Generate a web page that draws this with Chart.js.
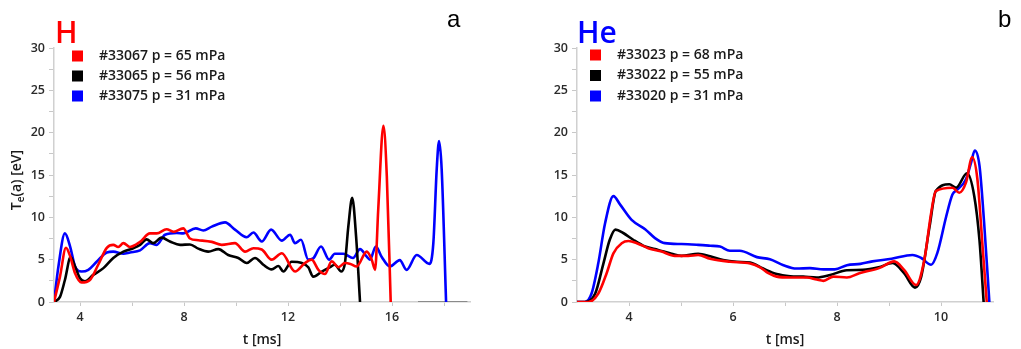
<!DOCTYPE html>
<html>
<head>
<meta charset="utf-8">
<script src="https://cdn.jsdelivr.net/npm/chart.js@4.4.1/dist/chart.umd.min.js"></script>
<style>
  html, body { margin: 0; padding: 0; background: #ffffff; }
  #wrap { position: relative; width: 1021px; height: 349px; overflow: hidden; }
  .panel { position: absolute; top: 0; height: 349px; }
  #pA { left: 0; width: 510px; }
  #pB { left: 510px; width: 511px; }
</style>
</head>
<body>
<div id="wrap">
  <div class="panel" id="pA"><canvas id="cA"></canvas></div>
  <div class="panel" id="pB"><canvas id="cB"></canvas></div>
</div>
<script>
// ---------------- DATA (panel a, hydrogen) ----------------
const hLegend = ["#33067 p = 65 mPa", "#33065 p = 56 mPa", "#33075 p = 31 mPa"];
const hRedT = [3.0, 3.23, 3.46, 3.62, 3.81, 4.06, 4.38, 4.7, 5.03, 5.28, 5.47, 5.67, 5.92, 6.31, 6.69, 6.95, 7.33, 7.59, 7.97, 8.23, 8.55, 9.07, 9.45, 9.96, 10.35, 10.67, 10.99, 11.37, 11.76, 12.27, 12.65, 12.91, 13.17, 13.42, 13.68, 13.94, 14.19, 14.4, 14.64, 15.03, 15.22, 15.35, 15.47, 15.67, 15.8, 15.95];
const hRedV = [0, 3.0, 6.4, 5.4, 3.4, 2.3, 2.6, 4.4, 6.4, 6.75, 6.5, 6.95, 6.5, 7.1, 8.1, 8.1, 8.6, 8.3, 8.7, 7.5, 7.3, 7.1, 6.75, 6.95, 5.95, 6.35, 6.2, 5.0, 5.75, 3.6, 4.6, 5.0, 3.8, 3.3, 4.8, 4.1, 4.6, 4.5, 4.2, 5.95, 5.0, 3.8, 10.9, 20.8, 14.9, 0];
const hBlackT = [3.0, 3.23, 3.42, 3.64, 3.81, 4.0, 4.19, 4.51, 4.9, 5.28, 5.67, 6.05, 6.31, 6.56, 6.82, 7.14, 7.46, 7.85, 8.23, 8.55, 8.93, 9.32, 9.7, 10.09, 10.41, 10.73, 11.05, 11.37, 11.63, 11.82, 12.14, 12.53, 12.78, 12.97, 13.3, 13.6, 13.8, 14.05, 14.19, 14.32, 14.47, 14.62, 14.77];
const hBlackV = [0, 0.6, 2.6, 5.3, 4.2, 2.8, 2.45, 3.2, 4.0, 5.2, 5.95, 6.35, 6.75, 7.4, 6.95, 7.6, 7.15, 6.75, 6.8, 6.3, 5.95, 6.25, 5.55, 5.2, 4.6, 5.2, 4.4, 3.85, 4.25, 3.6, 4.75, 4.6, 4.1, 3.0, 3.6, 4.1, 4.4, 3.6, 4.6, 8.9, 12.3, 7.7, 0];
const hBlueT = [3.0, 3.17, 3.42, 3.62, 3.81, 4.06, 4.32, 4.64, 5.03, 5.28, 5.67, 5.92, 6.31, 6.69, 6.95, 7.27, 7.72, 7.97, 8.45, 8.74, 9.07, 9.58, 9.96, 10.41, 10.67, 10.99, 11.35, 11.76, 12.08, 12.27, 12.5, 12.78, 12.97, 13.27, 13.58, 13.8, 14.13, 14.5, 14.77, 15.03, 15.15, 15.38, 15.6, 15.92, 16.3, 16.56, 16.95, 17.44, 17.59, 17.72, 17.81, 17.91, 18.08];
const hBlueV = [0, 4.2, 8.1, 6.55, 4.2, 3.6, 3.8, 4.75, 5.85, 5.95, 5.7, 5.85, 6.1, 6.95, 6.75, 7.95, 8.15, 8.1, 8.7, 8.45, 8.9, 9.4, 8.55, 7.65, 8.2, 7.15, 8.55, 7.25, 7.95, 6.95, 7.35, 5.0, 5.15, 6.55, 5.0, 5.7, 5.7, 5.2, 6.25, 5.35, 5.0, 6.55, 5.35, 4.2, 4.95, 3.8, 5.55, 4.5, 6.95, 15.7, 19.0, 15.7, 0];
const hGrayT = [17.0, 18.9];
const hGrayV = [0, 0];
const hXTicks = [4, 6, 8, 10, 12, 14, 16, 18];
const hXLabels = [4, 8, 12, 16];

// ---------------- DATA (panel b, helium) ----------------
const heLegend = ["#33023 p = 68 mPa", "#33022 p = 55 mPa", "#33020 p = 31 mPa"];
const heRedT = [3.0, 3.22, 3.41, 3.57, 3.7, 3.86, 3.99, 4.15, 4.37, 4.63, 4.88, 5.14, 5.33, 5.56, 5.94, 6.33, 6.52, 6.68, 6.84, 7.1, 7.42, 7.61, 7.74, 7.93, 8.19, 8.43, 8.81, 9.1, 9.29, 9.52, 9.68, 9.81, 9.9, 10.22, 10.35, 10.48, 10.6, 10.7, 10.8, 10.88];
const heRedV = [0, 0, 1.0, 3.4, 5.75, 6.95, 7.2, 6.95, 6.35, 5.95, 5.45, 5.45, 5.55, 5.1, 4.75, 4.55, 4.1, 3.4, 3.0, 2.9, 2.9, 2.65, 2.5, 3.0, 2.9, 3.4, 4.0, 4.8, 3.8, 2.0, 5.0, 10.5, 13.1, 13.5, 12.9, 14.1, 17.1, 14.5, 6.5, 0];
const heBlackT = [3.0, 3.15, 3.35, 3.51, 3.63, 3.74, 3.89, 4.08, 4.31, 4.56, 4.82, 5.01, 5.33, 5.56, 5.81, 6.07, 6.33, 6.58, 6.84, 7.1, 7.35, 7.61, 7.87, 8.19, 8.5, 8.8, 9.07, 9.29, 9.5, 9.62, 9.78, 9.9, 10.16, 10.29, 10.5, 10.64, 10.74, 10.82];
const heBlackV = [0, 0, 1.0, 4.6, 7.35, 8.55, 8.15, 7.35, 6.55, 6.15, 5.7, 5.45, 5.7, 5.4, 4.95, 4.75, 4.65, 3.95, 3.3, 3.05, 3.0, 2.9, 3.2, 3.75, 3.8, 4.1, 4.6, 3.4, 1.7, 3.0, 8.9, 13.1, 13.9, 13.5, 15.2, 12.5, 7.3, 0];
const heBlueT = [3.0, 3.15, 3.28, 3.41, 3.54, 3.7, 3.83, 4.05, 4.31, 4.5, 4.69, 5.01, 5.33, 5.56, 5.75, 5.94, 6.13, 6.46, 6.71, 6.97, 7.22, 7.48, 7.74, 7.96, 8.19, 8.45, 8.68, 9.05, 9.45, 9.62, 9.81, 9.93, 10.1, 10.22, 10.32, 10.48, 10.58, 10.65, 10.74, 10.83, 10.93];
const heBlueV = [0, 0, 1.0, 4.6, 9.3, 12.5, 11.5, 9.7, 8.6, 7.55, 6.95, 6.85, 6.75, 6.65, 6.55, 6.05, 6.05, 5.3, 5.05, 4.35, 3.95, 4.0, 3.85, 3.85, 4.35, 4.5, 4.8, 5.1, 5.56, 5.2, 4.4, 5.8, 10.1, 12.7, 13.3, 14.5, 16.5, 17.9, 16.1, 9.3, 0];
const heXTicks = [4, 5, 6, 7, 8, 9, 10];
const heXLabels = [4, 6, 8, 10];

// ---------------- shared axis values ----------------
const yTicks = [0, 2.5, 5, 7.5, 10, 12.5, 15, 17.5, 20, 22.5, 25, 27.5, 30];
const yLabels = [0, 5, 10, 15, 20, 25, 30];
const xTitle = "t [ms]";
const yTitleParts = ["T", "e", "(a) [eV]"];

const RED = "#ff0000", BLACK = "#000000", BLUE = "#0000ff";

function pts(ts, vs) { return ts.map((t, i) => ({ x: t, y: vs[i] })); }

function line(label, color, ts, vs, extra) {
  return Object.assign({
    label: label, data: pts(ts, vs), borderColor: color, backgroundColor: color,
    borderWidth: 2.6, pointRadius: 0, fill: false, cubicInterpolationMode: 'monotone'
  }, extra || {});
}

const overlay = {
  id: 'overlay',
  afterDraw(chart, args, o) {
    const ctx = chart.ctx;
    ctx.save();
    // species name
    ctx.font = "600 30px 'Open Sans', sans-serif";
    ctx.fillStyle = o.nameColor;
    ctx.textBaseline = 'alphabetic';
    ctx.textAlign = 'left';
    ctx.fillText(o.name, o.nameX, 43);
    // panel letter
    ctx.font = "24px 'Liberation Sans', sans-serif";
    ctx.fillStyle = '#000';
    ctx.fillText(o.letter, o.letterX, 27);
    // legend
    const ds = chart.data.datasets.filter(d => d.showInLegend !== false);
    ctx.font = "600 14px 'Open Sans', sans-serif";
    ctx.textBaseline = 'middle';
    ds.forEach((d, i) => {
      const cy = o.legY + i * o.legDy;
      ctx.fillStyle = d.borderColor;
      ctx.fillRect(o.sqX, cy - 5.5, 11, 11);
      ctx.fillStyle = '#1a1a1a';
      ctx.fillText(d.label, o.textX, cy);
    });
    // y title with subscript
    if (o.yTitle) {
      ctx.translate(17, chart.chartArea.top + (chart.chartArea.bottom - chart.chartArea.top) / 2 + 5);
      ctx.rotate(-Math.PI / 2);
      ctx.fillStyle = '#1a1a1a';
      ctx.textBaseline = 'middle';
      const big = "600 14px 'Open Sans', sans-serif";
      const small = "600 10px 'Open Sans', sans-serif";
      ctx.font = big; const w0 = ctx.measureText(yTitleParts[0]).width;
      const w2 = ctx.measureText(yTitleParts[2]).width;
      ctx.font = small; const w1 = ctx.measureText(yTitleParts[1]).width;
      let x = -(w0 + w1 + w2) / 2;
      ctx.font = big; ctx.fillText(yTitleParts[0], x, 0); x += w0;
      ctx.font = small; ctx.fillText(yTitleParts[1], x, 4); x += w1;
      ctx.font = big; ctx.fillText(yTitleParts[2], x, 0);
    }
    ctx.restore();
  }
};

function makeChart(id, datasets, xMin, xMax, xTicks, xLabels, yWidth, padRight, ov) {
  return new Chart(document.getElementById(id), {
    type: 'line',
    data: { datasets: datasets },
    plugins: [overlay],
    options: {
      responsive: true, maintainAspectRatio: false, animation: false,
      layout: { autoPadding: false, padding: { left: 0, right: padRight, top: 48, bottom: 0 } },
      plugins: { legend: { display: false }, tooltip: { enabled: false }, overlay: ov },
      scales: {
        x: {
          type: 'linear', min: xMin, max: xMax,
          afterBuildTicks: s => { s.ticks = xTicks.map(v => ({ value: v })); },
          afterFit: s => { s.height = 47; },
          grid: { drawOnChartArea: false, drawTicks: true, tickLength: 4, color: '#c8c8c8', lineWidth: 1 },
          border: { display: true, color: '#d0d0d0', width: 1.5 },
          ticks: {
            autoSkip: false, maxRotation: 0, padding: 4, color: '#2a2a2a',
            font: { family: "'Open Sans', sans-serif", size: 12.5, weight: '600' },
            callback: v => xLabels.includes(v) ? String(v) : ''
          },
          title: { display: true, text: xTitle, color: '#1a1a1a', padding: { top: 0, bottom: 1 },
                   font: { family: "'Open Sans', sans-serif", size: 14, weight: '600' } }
        },
        y: {
          type: 'linear', min: 0, max: 30,
          afterBuildTicks: s => { s.ticks = yTicks.map(v => ({ value: v })); },
          afterFit: s => { s.width = yWidth; },
          grid: { drawOnChartArea: false, drawTicks: true, tickLength: 5, color: '#c8c8c8', lineWidth: 1 },
          border: { display: true, color: '#d0d0d0', width: 1.5 },
          ticks: {
            autoSkip: false, padding: 4, color: '#2a2a2a',
            font: { family: "'Open Sans', sans-serif", size: 12.5, weight: '600' },
            callback: v => yLabels.includes(v) ? String(v) : ''
          }
        }
      }
    }
  });
}

makeChart('cA', [
  line(hLegend[0], RED, hRedT, hRedV),
  line(hLegend[1], BLACK, hBlackT, hBlackV),
  line(hLegend[2], BLUE, hBlueT, hBlueV),
  line('', '#8a8a8a', hGrayT, hGrayV, { showInLegend: false, borderWidth: 2, cubicInterpolationMode: 'default' })
], 3, 19, hXTicks, hXLabels, 54, 40,
{ name: 'H', nameColor: RED, nameX: 55, letter: 'a', letterX: 447, legY: 56, legDy: 20, sqX: 72, textX: 99, yTitle: true });

makeChart('cB', [
  line(heLegend[0], RED, heRedT, heRedV),
  line(heLegend[1], BLACK, heBlackT, heBlackV),
  line(heLegend[2], BLUE, heBlueT, heBlueV)
], 3, 11, heXTicks, heXLabels, 67, 28,
{ name: 'He', nameColor: BLUE, nameX: 67, letter: 'b', letterX: 488, legY: 55, legDy: 20.5, sqX: 80, textX: 107, yTitle: false });
</script>
</body>
</html>
